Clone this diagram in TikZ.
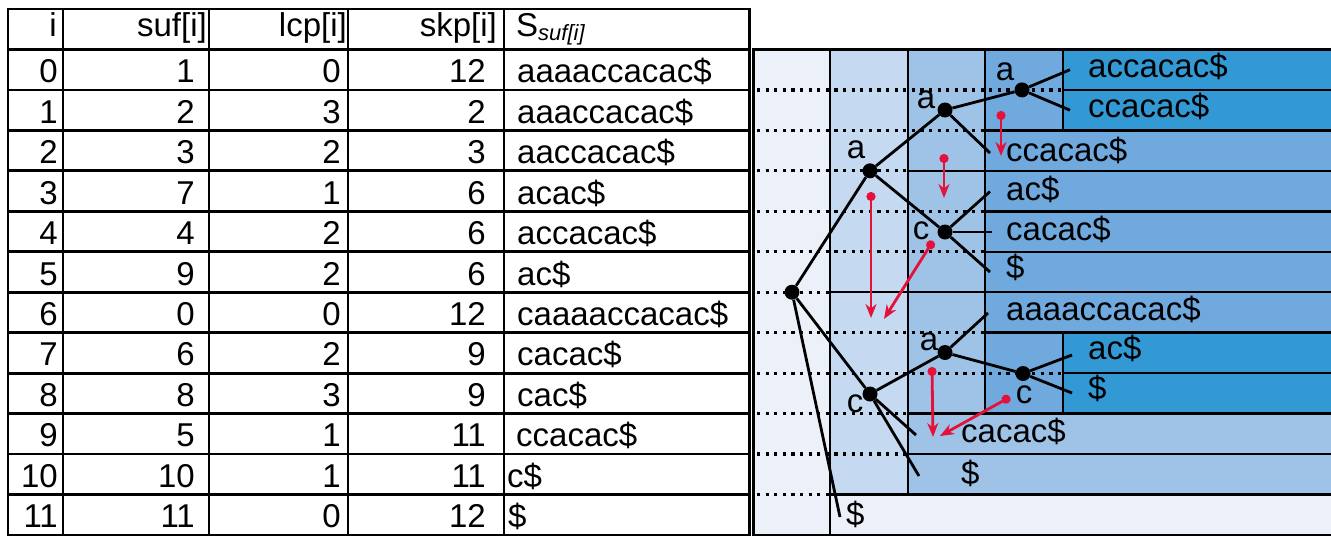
\documentclass[tikz,border=0pt]{standalone}
\usepackage{fontspec}
\setmainfont{Liberation Sans}
\usetikzlibrary{arrows.meta}
\definecolor{lvzero}{RGB}{236,241,249}
\definecolor{lvone}{RGB}{197,217,240}
\definecolor{lvtwo}{RGB}{158,195,230}
\definecolor{lvthree}{RGB}{111,169,221}
\definecolor{lvfour}{RGB}{51,153,212}
\definecolor{hintred}{RGB}{228,18,58}
\tikzset{
  tbl/.style={line width=2.8pt},
  box/.style={draw=black,line width=2.4pt},
  dotline/.style={line width=3.2pt,dash pattern=on 3.2pt off 5.4pt},
  cell/.style={inner sep=0pt,font=\fontsize{33}{36}\selectfont},
  lbl/.style={inner sep=0pt,font=\fontsize{33}{36}\selectfont},
  dot/.style={circle,fill=black,inner sep=0pt,minimum size=15pt},
  edge/.style={line width=2.8pt},
  hint/.style={draw=hintred,line width=2.8pt,{Circle[length=9pt]}-{Stealth[length=14pt,width=11pt]}}
}
\begin{document}
\begin{tikzpicture}[x=1pt,y=-1pt]
\useasboundingbox[fill=white] (0,0) rectangle (1331,536);
% table
\draw[tbl] (8,9) rectangle (749.5,535);
\foreach \k in {1,...,12}
  \draw[tbl] (8,{9+40.46*\k}) -- (749.5,{9+40.46*\k});
\foreach \x in {63,209,348,504}
  \draw[tbl] (\x,9) -- (\x,535);
\node[cell,anchor=base east] (h-i) at (57,36) {i};
\node[cell,anchor=base east] (h-suf) at (207,36) {suf[i]};
\node[cell,anchor=base east] (h-lcp) at (347,36) {lcp[i]};
\node[cell,anchor=base east] (h-skp) at (497,36) {skp[i]};
\node[cell,anchor=base west] (h-str) at (516,36) {S\raisebox{-4pt}{\fontsize{22}{22}\selectfont\itshape suf[i]}};
\foreach \s/\l/\k/\t/\p [count=\i from 0] in {1/0/12/aaaaccacac\$/517,
    2/3/2/aaaccacac\$/517, 3/2/3/aaccacac\$/517, 7/1/6/acac\$/517,
    4/2/6/accacac\$/517, 9/2/6/ac\$/517, 0/0/12/caaaaccacac\$/517,
    6/2/9/cacac\$/517, 8/3/9/cac\$/517, 5/1/11/ccacac\$/516,
    10/1/11/c\$/507, 11/0/12/\$/508} {
  \node[cell,anchor=base east] (i-\i) at (58,{82.7+40.46*\i}) {\i};
  \node[cell,anchor=base east] (suf-\i) at (195,{82.7+40.46*\i}) {\s};
  \node[cell,anchor=base east] (lcp-\i) at (341,{82.7+40.46*\i}) {\l};
  \node[cell,anchor=base east] (skp-\i) at (486,{82.7+40.46*\i}) {\k};
  \node[cell,anchor=base west] (str-\i) at (\p,{82.7+40.46*\i}) {\t};
}
% intervals
\foreach \x/\a/\b/\c in {753.5/1/13/lvzero, 830/1/7/lvone, 830/7/12/lvone,
    830/12/13/lvzero, 908/1/4/lvtwo, 908/4/7/lvtwo, 908/7/10/lvtwo,
    908/10/11/lvtwo, 908/11/12/lvtwo, 985/1/3/lvthree, 985/3/4/lvthree,
    985/4/5/lvthree, 985/5/6/lvthree, 985/6/7/lvthree, 985/7/8/lvthree,
    985/8/10/lvthree, 1063/1/2/lvfour, 1063/2/3/lvfour, 1063/8/9/lvfour,
    1063/9/10/lvfour}
  \draw[box,fill=\c] (\x,{9+40.46*\a}) rectangle (1345,{9+40.46*\b});
\foreach \k/\x in {2/1063,3/985,4/908,5/985,6/985,7/830,8/985,9/1063,10/908,11/908,12/830}
  \draw[dotline] (757,{9+40.46*\k}) -- (\x,{9+40.46*\k});
% tree
\node[dot] (root) at (792,292.2) {};
\node[dot] (na) at (870,170.8) {};
\node[dot] (naa) at (945,110) {};
\node[dot] (naaa) at (1022,89.9) {};
\node[dot] (nac) at (945,232) {};
\node[dot] (nc) at (870,394) {};
\node[dot] (nca) at (945,352.5) {};
\node[dot] (ncac) at (1023,373.5) {};
\node[lbl] (la) at (856,150) {a};
\node[lbl] (laa) at (926,100) {a};
\node[lbl] (laaa) at (1005,72) {a};
\node[lbl] (lac) at (921,231) {c};
\node[lbl] (lc) at (855,404) {c};
\node[lbl] (lca) at (929,342) {a};
\node[lbl] (lcac) at (1024,395) {c};
\coordinate (e0) at (1070,69.7);
\coordinate (e1) at (1070,110.2);
\coordinate (e2) at (990,153);
\coordinate (e3) at (990,191.5);
\coordinate (e4) at (992,232);
\coordinate (e5) at (990,272);
\coordinate (e6) at (988,313);
\coordinate (e7) at (1072,355);
\coordinate (e8) at (1072,393);
\coordinate (e9) at (916,435);
\coordinate (e10) at (919,476);
\coordinate (e11) at (840,517);
\foreach \u/\v in {root/na, root/nc, root/e11, na/naa, na/nac, naa/naaa,
    naa/e2, naaa/e0, naaa/e1, nac/e3, nac/e4, nac/e5, nc/nca, nc/e9,
    nc/e10, nca/e6, nca/ncac, ncac/e7, ncac/e8}
  \draw[edge] (\u) -- (\v);
% leaves
\node[cell,anchor=base west] (l0) at (1088,77) {accacac\$};
\node[cell,anchor=base west] (l1) at (1088,117) {ccacac\$};
\node[cell,anchor=base west] (l2) at (1006,161) {ccacac\$};
\node[cell,anchor=base west] (l3) at (1006,200) {ac\$};
\node[cell,anchor=base west] (l4) at (1006,240) {cacac\$};
\node[cell,anchor=base west] (l5) at (1006,278) {\$};
\node[cell,anchor=base west] (l6) at (1006,320) {aaaaccacac\$};
\node[cell,anchor=base west] (l7) at (1088,359) {ac\$};
\node[cell,anchor=base west] (l8) at (1088,399) {\$};
\node[cell,anchor=base west] (l9) at (961,442) {cacac\$};
\node[cell,anchor=base west] (l10) at (961,484) {\$};
\node[cell,anchor=base west] (l11) at (846,525) {\$};
% hints
\coordinate (s1) at (1001,111); \coordinate (t1) at (1001,156);
\coordinate (s2) at (944,154);  \coordinate (t2) at (944,198);
\coordinate (s3) at (871,192);  \coordinate (t3) at (871,318);
\coordinate (s4) at (933,241);  \coordinate (t4) at (884,319);
\coordinate (s5) at (932,367);  \coordinate (t5) at (933,437);
\coordinate (s6) at (1010,397); \coordinate (t6) at (940,436);
\foreach \n in {1,...,6}
  \draw[hint] (s\n) -- (t\n);
\end{tikzpicture}
\end{document}
